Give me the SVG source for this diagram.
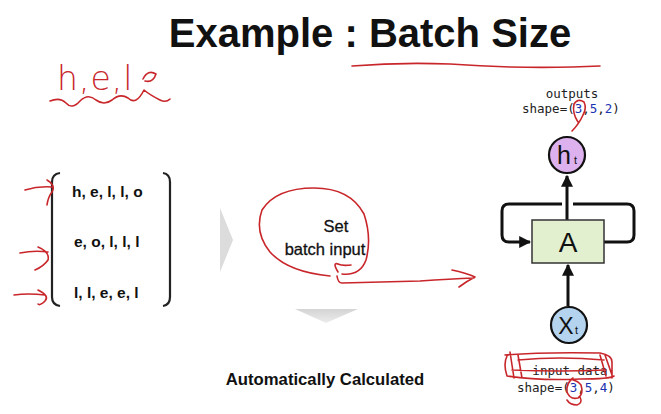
<svg xmlns="http://www.w3.org/2000/svg" width="661" height="414" viewBox="0 0 661 414">
<style>
.title{font-family:"Liberation Sans",Arial,sans-serif;font-weight:bold;font-size:40px;fill:#111}
.row{font-family:"Liberation Sans",Arial,sans-serif;font-weight:bold;font-size:15.5px;fill:#111}
.lbl{font-family:"Liberation Sans",Arial,sans-serif;font-size:16.5px;fill:#111;stroke:#111;stroke-width:0.3}
.blbl{font-family:"Liberation Sans",Arial,sans-serif;font-weight:bold;font-size:16.7px;fill:#111}
.mono{font-family:"DejaVu Sans Mono","Liberation Mono",monospace;font-size:12.5px;fill:#222}
.blue{fill:#1a33b0}
.ink{fill:none;stroke:#c8262a;stroke-width:1.6;stroke-linecap:round;stroke-linejoin:round}
.line{fill:none;stroke:#111;stroke-width:3;stroke-linejoin:round}
.node{stroke:#111;stroke-width:2.2}
.sym{font-family:"Liberation Sans",Arial,sans-serif;fill:#111}
</style>
<defs>
<marker id="ah" viewBox="0 0 10 10" refX="9" refY="5" markerWidth="4" markerHeight="4" orient="auto-start-reverse">
<path d="M0,0 L10,5 L0,10 z" fill="#111"/>
</marker>
<linearGradient id="gdown" x1="0" y1="0" x2="0" y2="1">
<stop offset="0" stop-color="#d4d4d4"/><stop offset="1" stop-color="#ececec"/>
</linearGradient>
</defs>
<rect width="661" height="414" fill="#fff"/>

<g id="title">
<text class="title" x="370" y="47" text-anchor="middle">Example : Batch Size</text>
</g>

<g id="batch">
<path d="M60,173 Q52,174 52,182 L52,297 Q52,305 60,306" fill="none" stroke="#222" stroke-width="2.2"/>
<path d="M163,173 Q170,174 170,182 L170,297 Q170,305 163,306" fill="none" stroke="#222" stroke-width="2.2"/>
<text class="row" x="72" y="197">h, e, l, l, o</text>
<text class="row" x="74" y="247">e, o, l, l, l</text>
<text class="row" x="74" y="298">l, l, e, e, l</text>
</g>

<g id="chevrons">
<polygon points="220,208 233,240 220,272" fill="#dcdcdc"/>
<polygon points="295,309 358,309 326,323" fill="url(#gdown)"/>
</g>

<g id="setbatch">
<text class="lbl" x="336" y="232" text-anchor="middle">Set</text>
<text class="lbl" x="325" y="255" text-anchor="middle">batch input</text>
</g>

<g id="auto">
<text class="blbl" x="325" y="385" text-anchor="middle">Automatically Calculated</text>
</g>

<g id="connectors">
<line x1="567" y1="221" x2="567" y2="176" class="line" marker-end="url(#ah)"/>
<line x1="568" y1="306" x2="568" y2="265" class="line" marker-end="url(#ah)"/>
<path d="M604,242 L627,242 Q634,242 634,235 L634,211 Q634,204 627,204 L573,204" class="line"/>
<path d="M562,204 L509,204 Q502,204 502,211 L502,235 Q502,242 509,242 L530,242" class="line" marker-end="url(#ah)"/>
</g>

<g id="A">
<rect x="532" y="220" width="72" height="43" fill="#e2f0cf" stroke="#333" stroke-width="1.5"/>
<text class="sym" x="568" y="252" font-size="28" text-anchor="middle">A</text>
</g>

<g id="ht">
<circle cx="567" cy="155" r="18" fill="#dcb1ee" class="node"/>
<text class="sym" x="564" y="164" font-size="25" text-anchor="middle">h</text>
<text class="sym" x="574" y="164" font-size="11">t</text>
</g>

<g id="xt">
<circle cx="569" cy="325" r="18" fill="#b3d3ee" class="node"/>
<text class="sym" x="566" y="334" font-size="23" text-anchor="middle">X</text>
<text class="sym" x="575" y="334" font-size="11">t</text>
</g>

<g id="outputs">
<text class="mono" x="572" y="98" text-anchor="middle">outputs</text>
<text class="mono" x="522" y="113">shape=(<tspan class="blue">3</tspan>,<tspan class="blue">5</tspan>,<tspan class="blue">2</tspan>)</text>
</g>

<g id="inputs">
<text class="mono" x="570" y="375" text-anchor="middle">input data</text>
<text class="mono" x="517" y="392">shape=(<tspan class="blue">3</tspan>,<tspan class="blue">5</tspan>,<tspan class="blue">4</tspan>)</text>
</g>

<g id="annotations">
<text x="57" y="90" font-family="'DejaVu Sans',sans-serif" font-size="33" font-weight="200" fill="#c8262a" letter-spacing="1">h,e,l</text>
<path class="ink" d="M143,79 Q148,69 156,74 Q153,83 145,81"/>
<path class="ink" d="M50,101 Q60,97 66,103 Q72,110 80,101 Q88,93 96,100 Q104,106 112,100 Q120,93 128,98 Q136,106 144,90 Q150,95 160,100 Q166,103 170,99"/>
<path class="ink" d="M352,66 Q400,62 450,64 Q480,66 510,67 Q560,68 600,66"/>
<path class="ink" d="M25,190 Q38,186 52,187 M47,180 Q56,185 52,192 Q48,197 47,205"/>
<path class="ink" d="M20,253 Q34,250 48,252 M38,247 Q50,252 48,260 Q44,266 35,270"/>
<path class="ink" d="M14,295 Q28,293 45,295 M38,290 Q50,296 45,301 Q40,306 38,304"/>
<path class="ink" d="M338,272 Q332,262 338,264 Q342,266 351,265 M342,274 Q360,276 366,260 Q372,238 364,214 Q350,188 314,188 Q276,188 262,210 Q254,232 270,252 Q288,272 330,276"/>
<path class="ink" d="M337,276 Q338,283 342,283 Q380,282 420,281 Q450,279 474,278 M452,270 Q466,273 475,277 Q467,281 459,287"/>
<path class="ink" d="M578,122 Q572,113 574,104 Q578,98 584,102 Q587,108 583,115 Q579,124 572,131"/>
<path class="ink" d="M505,355 Q540,352 600,353 Q612,355 612,362 L612,378 M507,356 Q503,364 507,376 Q540,381 580,379 Q610,379 614,376 M510,352 L514,378 M518,355 L522,378 M600,355 L606,376 M605,355 L612,375 M518,360 Q560,356 604,360 M512,370 Q560,372 606,370"/>
<path class="ink" d="M573,378 Q566,383 567,392 Q570,400 578,398 Q584,394 581,385 Q578,381 573,380 M580,397 Q583,403 577,405 Q570,405 567,400"/>
</g>
</svg>
